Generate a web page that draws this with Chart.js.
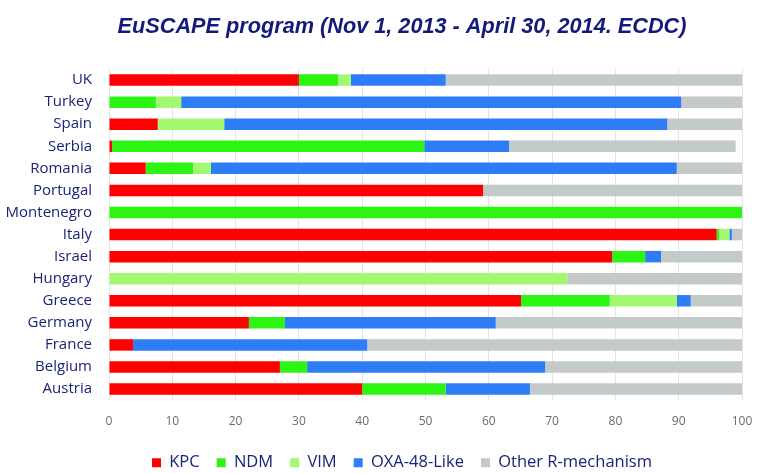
<!DOCTYPE html>
<html>
<head>
<meta charset="utf-8">
<script src="https://cdn.jsdelivr.net/npm/chart.js@4"></script>
<style>
  html, body { margin: 0; padding: 0; background: #fff; }
  #wrap { width: 762px; height: 473px; }
</style>
</head>
<body>
<div id="wrap"><canvas id="chart"></canvas></div>
<script>
// countries, top to bottom
const countries = ['UK', 'Turkey', 'Spain', 'Serbia', 'Romania', 'Portugal', 'Montenegro',
    'Italy', 'Israel', 'Hungary', 'Greece', 'Germany', 'France', 'Belgium', 'Austria'];

// share (%) of each resistance mechanism
const kpc   = [30.0, 0,    7.7,  0.5,  5.8,  59.1, 0,   96.0, 79.5, 0,    65.1, 22.1, 3.8,  27.0, 40.0];
const ndm   = [6.2,  7.4,  0,    49.3, 7.5,  0,    100, 0.4,  5.2,  0,    14.0, 5.7,  0,    4.3,  13.2];
const vim   = [2.0,  4.0,  10.5, 0,    2.8,  0,    0,   1.6,  0,    72.4, 10.6, 0,    0,    0,    0];
const oxa48 = [15.0, 79.0, 70.0, 13.4, 73.6, 0,    0,   0.4,  2.5,  0,    2.2,  33.3, 37.0, 37.6, 13.3];
const other = [46.8, 9.6,  11.8, 35.8, 10.3, 40.9, 0,   1.6,  12.8, 27.6, 8.1,  38.9, 59.2, 31.1, 33.5];

const xTicks = [0, 10, 20, 30, 40, 50, 60, 70, 80, 90, 100];

const navy = '#1b2379';

function series(label, data, color) {
    return {
        label: label,
        data: data,
        backgroundColor: color,
        borderWidth: 0,
        barPercentage: 0.52,
        categoryPercentage: 1.0
    };
}

// title and legend sit a bit right of the canvas centre in the original
const shiftBoxes = {
    id: 'shiftBoxes',
    afterLayout(chart) {
        [chart.titleBlock, chart.legend].forEach(b => {
            if (b) { b.left += 31; b.right += 31; }
        });
    }
};

new Chart(document.getElementById('chart').getContext('2d'), {
    type: 'bar',
    data: {
        labels: countries,
        datasets: [
            series('KPC', kpc, '#ff0000'),
            series('NDM', ndm, '#2cf514'),
            series('VIM', vim, '#a3f872'),
            series('OXA-48-Like', oxa48, '#2f7df6'),
            series('Other R-mechanism', other, '#c4c9c9')
        ]
    },
    plugins: [shiftBoxes],
    options: {
        indexAxis: 'y',
        responsive: true,
        maintainAspectRatio: false,
        animation: false,
        layout: { padding: { left: 0, right: 20, top: 10, bottom: -8 } },
        plugins: {
            title: {
                display: true,
                text: 'EuSCAPE program (Nov 1, 2013 - April 30, 2014. ECDC)',
                color: '#141a7c',
                font: { family: 'Liberation Sans', size: 21.7, weight: 'bold', style: 'italic' },
                padding: { top: 4, bottom: 29 }
            },
            legend: {
                position: 'bottom',
                labels: {
                    color: navy,
                    font: { family: 'Open Sans', size: 16.5 },
                    boxWidth: 9,
                    boxHeight: 9,
                    padding: 17
                }
            },
            tooltip: { enabled: false }
        },
        scales: {
            x: {
                stacked: true,
                min: 0,
                max: 100,
                afterBuildTicks: s => { s.ticks = xTicks.map(v => ({ value: v })); },
                afterFit: s => {
                    s.height -= 5;
                    s.paddingLeft = 0;
                    s.paddingRight = 0;
                },
                grid: { color: '#e3e3e3', drawTicks: false },
                border: { display: false },
                ticks: {
                    color: '#6b6b6b',
                    font: { family: 'Open Sans', size: 12 },
                    padding: 14
                }
            },
            y: {
                stacked: true,
                grid: { display: false },
                border: { display: false },
                afterFit: s => { s.width = 109; },
                ticks: {
                    color: navy,
                    font: { family: 'Open Sans', size: 15 },
                    padding: 9
                }
            }
        }
    }
});
</script>
</body>
</html>
